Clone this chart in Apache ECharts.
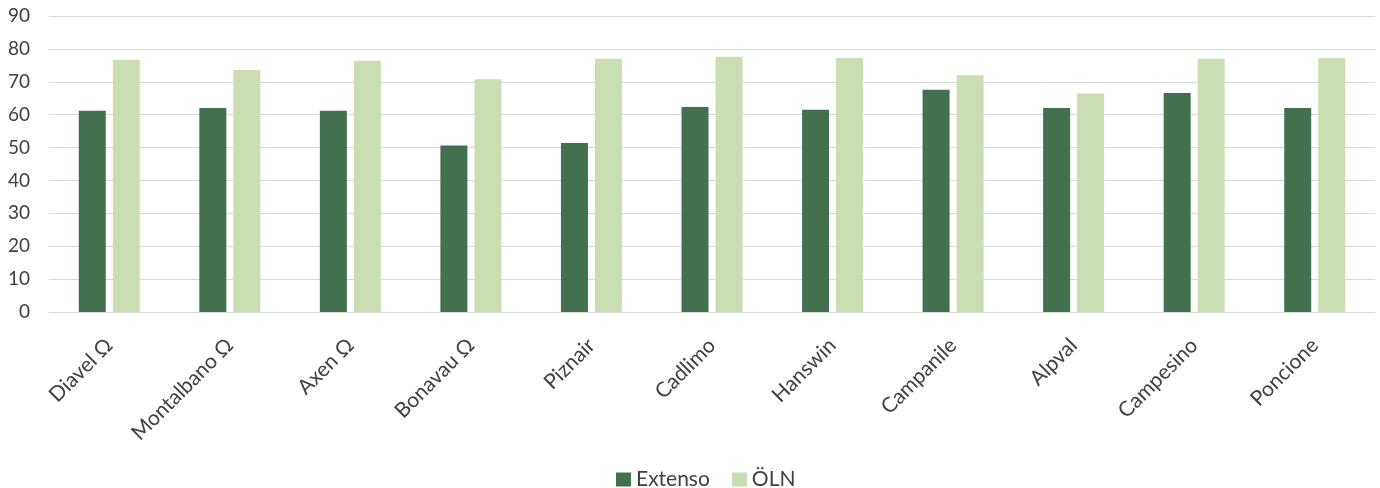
<!DOCTYPE html>
<html>
<head>
<meta charset="utf-8">
<script src="https://cdn.jsdelivr.net/npm/echarts@6/dist/echarts.min.js"></script>
<style>html,body{margin:0;padding:0;background:#fff}#c{width:1380px;height:488px}</style>
</head>
<body>
<div id="c"></div>
<script>
var categories = ["Diavel Ω","Montalbano Ω","Axen Ω","Bonavau Ω","Piznair","Cadlimo","Hanswin","Campanile","Alpval","Campesino","Poncione"];
var extenso = [61.2, 62.0, 61.2, 50.6, 51.4, 62.3, 61.5, 67.6, 62.0, 66.6, 62.0];
var oln = [76.7, 73.6, 76.4, 70.8, 77.0, 77.6, 77.2, 72.0, 66.4, 77.0, 77.2];
var yTicks = [0,10,20,30,40,50,60,70,80,90];

var chart = echarts.init(document.getElementById('c'));
var font = 'Lato';
chart.setOption({
  animation: false,
  grid: {left: 49, right: 5, top: 16, bottom: 176, containLabel: false},
  legend: {
    top: 464, left: 611,
    itemWidth: 15, itemHeight: 14, itemGap: 22,
    icon: 'rect',
    textStyle: {fontFamily: font, fontSize: 21, color: '#404040'},
    data: ['Extenso','ÖLN']
  },
  xAxis: {
    type: 'category',
    data: categories,
    axisLine: {lineStyle: {color: '#d9d9d9', width: 1}},
    axisTick: {show: false},
    axisLabel: {rotate: 45, margin: 30, fontFamily: font, fontSize: 21, color: '#404040', interval: 0}
  },
  yAxis: {
    type: 'value',
    min: yTicks[0], max: yTicks[yTicks.length-1], interval: 10,
    axisLine: {show: false},
    axisTick: {show: false},
    splitLine: {lineStyle: {color: '#d9d9d9', width: 1}},
    axisLabel: {margin: 19, fontFamily: font, fontSize: 19, color: '#404040'}
  },
  series: [
    {name: 'Extenso', type: 'bar', data: extenso, barWidth: 27, barGap: '26%',
     itemStyle: {color: '#41714e'}},
    {name: 'ÖLN', type: 'bar', data: oln, barWidth: 27,
     itemStyle: {color: '#cbdeb1'}}
  ]
});
</script>
</body>
</html>
